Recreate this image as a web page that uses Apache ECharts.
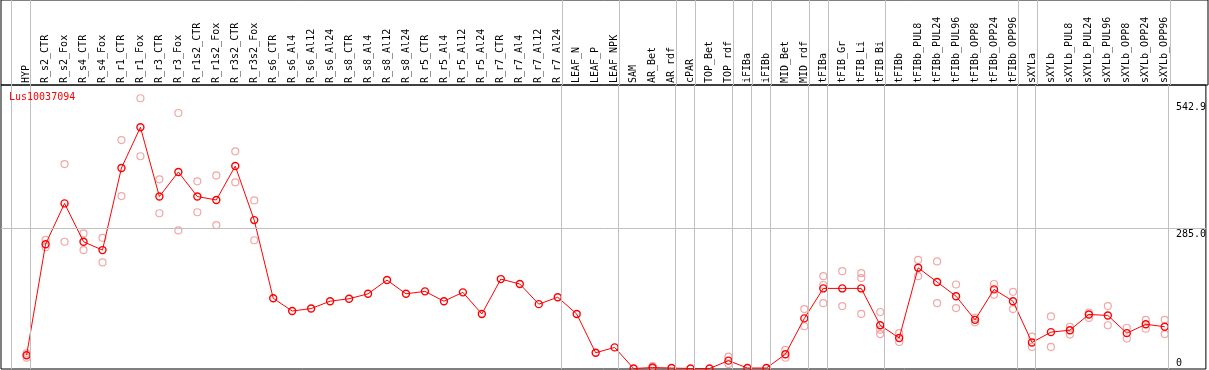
<!DOCTYPE html>
<html>
<head>
<meta charset="utf-8">
<script src="https://cdn.jsdelivr.net/npm/echarts@6/dist/echarts.min.js"></script>
<style>
html,body{margin:0;padding:0;background:#fff;}
#chart{width:1209px;height:370px;}
</style>
</head>
<body>
<div id="chart"></div>
<script>
const geneName = 'Lus10037094';
const categories = ['HYP','R_s2_CTR','R_s2_Fox','R_s4_CTR','R_s4_Fox','R_r1_CTR','R_r1_Fox','R_r3_CTR','R_r3_Fox','R_r1s2_CTR','R_r1s2_Fox','R_r3s2_CTR','R_r3s2_Fox','R_s6_CTR','R_s6_Al4','R_s6_Al12','R_s6_Al24','R_s8_CTR','R_s8_Al4','R_s8_Al12','R_s8_Al24','R_r5_CTR','R_r5_Al4','R_r5_Al12','R_r5_Al24','R_r7_CTR','R_r7_Al4','R_r7_Al12','R_r7_Al24','LEAF_N','LEAF_P','LEAF_NPK','SAM','AR_Bet','AR_rdf','cPAR','TOP_Bet','TOP_rdf','iFIBa','iFIBb','MID_Bet','MID_rdf','tFIBa','tFIB_Gr','tFIB_Li','tFIB_Bi','tFIBb','tFIBb_PUL8','tFIBb_PUL24','tFIBb_PUL96','tFIBb_OPP8','tFIBb_OPP24','tFIBb_OPP96','sXYLa','sXYLb','sXYLb_PUL8','sXYLb_PUL24','sXYLb_PUL96','sXYLb_OPP8','sXYLb_OPP24','sXYLb_OPP96'];
const meanValues = [27,253,336,258,241,408,491,350,400,350,343,412,302,143,117,122,137,142,152,180,152,157,137,155,111,182,172,131,145,111,32,43,0,2,1,0,0,16,1,1,29,102,163,163,163,88,62,205,176,147,99,161,137,53,74,78,110,108,72,90,85];
const replicateA = [31,262,416,275,266,465,550,385,520,381,393,442,342,null,null,null,null,null,null,null,null,null,null,null,null,null,null,null,null,null,null,null,null,5,null,null,null,24,null,null,38,121,188,198,194,115,72,221,218,171,103,172,156,65,106,85,114,127,83,99,99];
const replicateB = [22,247,258,241,216,351,432,316,281,318,292,379,261,null,null,null,null,null,null,null,null,null,null,null,null,null,null,null,null,null,null,null,null,0,null,null,null,9,null,null,22,86,133,127,111,70,54,188,133,123,94,150,121,44,44,69,103,88,61,81,70];
const replicateC = [null,null,null,null,null,null,null,null,null,null,null,null,null,null,null,null,null,null,null,null,null,null,null,null,null,null,null,null,null,null,null,null,null,null,null,null,null,null,null,null,null,null,170,null,184,79,null,null,null,null,null,null,null,null,null,null,null,null,null,null,null];
const groupBoundaries = [-1,0,28,31,34,35,37,38,39,41,42,45,52,53,60];
const yTickValues = [0,285,542.9];
const yTickLabels = ['0','285.0','542.9'];
const refLineValue = 285;

const FONT = 'DejaVu Sans Mono';
const XMIN = -1.35, XMAX = 62.17;

function pts(arr){const o=[];arr.forEach((v,i)=>{if(v!==null&&v!==undefined)o.push([i,v]);});return o;}
const repData = pts(replicateA).concat(pts(replicateB), pts(replicateC));
const vLines = groupBoundaries.map(b=>({xAxis:b+0.2}));
const gray = '#c0c0c0';

const chart = echarts.init(document.getElementById('chart'), null, {renderer:'canvas'});
chart.setOption({
  animation:false,
  backgroundColor:'#fff',
  title:{text:geneName,left:9,top:92,padding:0,textStyle:{color:'#ff0000',fontFamily:FONT,fontSize:10,fontWeight:'normal'}},
  grid:[
    {left:1,right:1,top:0,height:85,show:true,borderColor:'#000',borderWidth:1,backgroundColor:'transparent'},
    {left:1,right:1,top:85,bottom:1,show:true,borderColor:'#000',borderWidth:1,backgroundColor:'transparent'}
  ],
  xAxis:[
    {gridIndex:0,type:'value',min:XMIN,max:XMAX,show:false},
    {gridIndex:1,type:'value',position:'top',min:XMIN,max:XMAX,
     axisLine:{show:false},axisTick:{show:false},splitLine:{show:false},
     axisLabel:{customValues:categories.map((c,i)=>i),formatter:v=>categories[Math.round(v)],rotate:90,margin:2,
       fontFamily:FONT,fontSize:10,color:'#000'}}
  ],
  yAxis:[
    {gridIndex:0,type:'value',min:0,max:1,show:false},
    {gridIndex:1,type:'value',position:'right',min:-1,max:577,
     axisLine:{show:false},axisTick:{show:false},splitLine:{show:false},
     axisLabel:{inside:true,margin:30,align:'left',customValues:yTickValues,verticalAlign:'middle',
       formatter:v=>{const i=yTickValues.indexOf(v);const t=i>=0?yTickLabels[i]:String(v);return (v===0?'{b|':'{t|')+t+'}';},
       rich:{t:{fontFamily:FONT,fontSize:10,color:'#000',padding:[11,0,0,0]},b:{fontFamily:FONT,fontSize:10,color:'#000',padding:[0,0,11,0]}},
       fontFamily:FONT,fontSize:10,color:'#000'}}
  ],
  series:[
    {type:'line',xAxisIndex:0,yAxisIndex:0,data:[],silent:true,z:1,
     markLine:{silent:true,symbol:'none',label:{show:false},lineStyle:{color:gray,type:'solid',width:1},data:vLines}},
    {type:'line',xAxisIndex:1,yAxisIndex:1,data:[],silent:true,z:1,
     markLine:{silent:true,symbol:'none',label:{show:false},lineStyle:{color:gray,type:'solid',width:1},
       data:vLines.concat([{yAxis:refLineValue}])}},
    {type:'scatter',xAxisIndex:1,yAxisIndex:1,data:repData,z:3,symbol:'circle',symbolSize:7,
     itemStyle:{color:'rgba(0,0,0,0)',borderColor:'#f09090',borderWidth:1.2}},
    {type:'line',xAxisIndex:1,yAxisIndex:1,data:pts(meanValues),z:4,symbol:'circle',symbolSize:7,showAllSymbol:true,
     lineStyle:{color:'#ff0000',width:1},itemStyle:{color:'rgba(0,0,0,0)',borderColor:'#ff0000',borderWidth:1.4}}
  ]
});
</script>
</body>
</html>
